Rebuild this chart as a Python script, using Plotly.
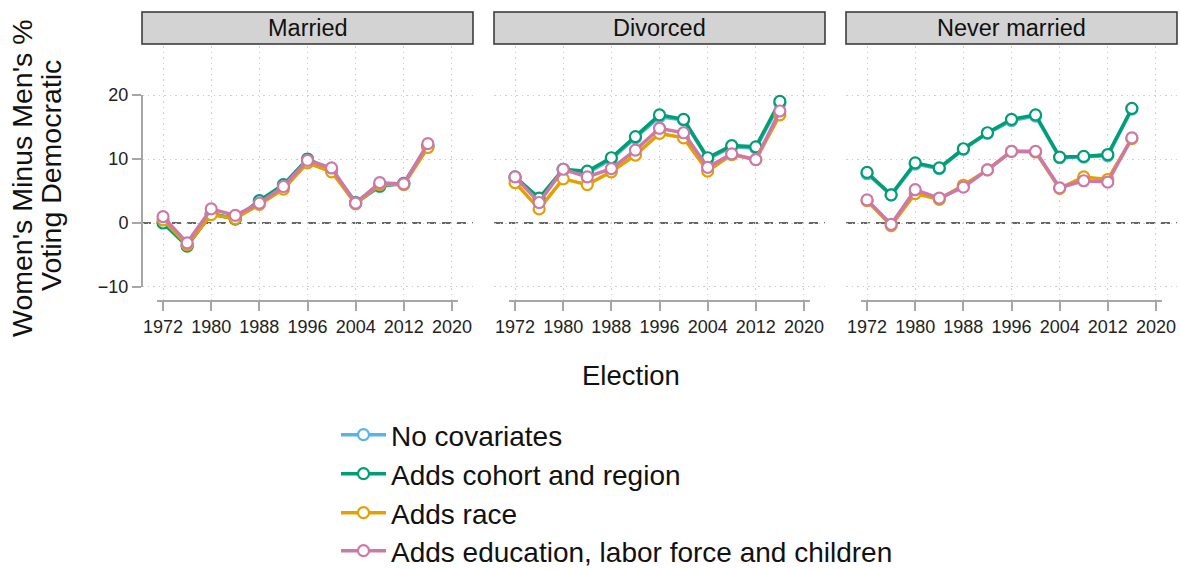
import plotly.graph_objects as go

# Election years
years = [1972, 1976, 1980, 1984, 1988, 1992, 1996, 2000, 2004, 2008, 2012, 2016]

# Gender gap (women minus men, % voting Democratic) by marital status and model
married_none = [0.2, -3.5, 1.4, 0.7, 3.4, 5.9, 9.9, 8.4, 3.1, 5.7, 6.2, 12.0]
married_cohort = [0.0, -3.6, 1.5, 0.6, 3.5, 6.0, 10.0, 8.3, 3.2, 5.8, 6.2, 12.0]
married_race = [0.5, -3.4, 1.3, 0.7, 2.9, 5.3, 9.4, 8.0, 3.0, 6.0, 6.0, 11.8]
married_educ = [1.0, -3.1, 2.2, 1.2, 3.1, 5.7, 9.8, 8.6, 3.1, 6.3, 6.1, 12.4]

divorced_none = [7.0, 3.6, 8.3, 7.8, 10.0, 13.3, 16.6, 16.1, 10.0, 11.9, 11.7, 18.7]
divorced_cohort = [7.2, 3.9, 8.4, 8.1, 10.2, 13.5, 16.9, 16.2, 10.2, 12.1, 11.9, 19.0]
divorced_race = [6.3, 2.2, 6.9, 6.0, 8.0, 10.6, 14.0, 13.3, 8.1, 10.7, 9.9, 16.9]
divorced_educ = [7.2, 3.2, 8.4, 7.2, 8.5, 11.4, 14.8, 14.1, 8.7, 10.8, 9.9, 17.5]

never_none = [7.7, 4.4, 9.2, 8.5, 11.5, 14.0, 16.0, 16.7, 10.2, 10.3, 10.5, 17.8]
never_cohort = [7.9, 4.4, 9.4, 8.6, 11.6, 14.1, 16.2, 16.9, 10.3, 10.4, 10.7, 17.9]
never_race = [3.5, -0.4, 4.6, 3.7, 5.9, 8.3, 11.2, 11.1, 5.4, 7.2, 6.8, 13.2]
never_educ = [3.6, -0.2, 5.2, 3.9, 5.6, 8.3, 11.2, 11.2, 5.5, 6.6, 6.4, 13.3]

panels = ["Married", "Divorced", "Never married"]
series_names = [
    "No covariates",
    "Adds cohort and region",
    "Adds race",
    "Adds education, labor force and children",
]
series_colors = ["#56B4E9", "#009E73", "#E69F00", "#CC79A7"]
panel_data = [
    [married_none, married_cohort, married_race, married_educ],
    [divorced_none, divorced_cohort, divorced_race, divorced_educ],
    [never_none, never_cohort, never_race, never_educ],
]

x_ticks = [1972, 1980, 1988, 1996, 2004, 2012, 2020]
y_ticks = [-10, 0, 10, 20]

FONT = "Liberation Sans, Arial, sans-serif"
W, H = 1180, 569
M_L, M_R, M_T, M_B = 142, 3, 46, 268
PW = W - M_L - M_R
PH = H - M_T - M_B

def px_x(p):
    return (p - M_L) / PW

def px_y(p):
    return (H - M_B - p) / PH

panel_px = [(142, 473), (494, 825), (846, 1177)]
legend_rows = [435, 474, 513, 551]

fig = go.Figure()

for i, (name, data) in enumerate(zip(panels, panel_data)):
    ax = "" if i == 0 else str(i + 1)
    for j, (sname, vals, col) in enumerate(zip(series_names, data, series_colors)):
        fig.add_trace(go.Scatter(
            x=years, y=vals, name=sname,
            mode="lines+markers",
            xaxis="x" + ax, yaxis="y" + ax,
            line=dict(color=col, width=3.5),
            marker=dict(size=11, color="white", line=dict(color=col, width=2.2)),
            showlegend=(i == 0),
            legend="legend" if j == 0 else "legend%d" % (j + 1),
        ))

axis_grid = dict(showgrid=True, gridcolor="#cfcfcf", griddash="1.5px,4px", gridwidth=1.2)
layout = dict(
    width=W, height=H,
    margin=dict(l=M_L, r=M_R, t=M_T, b=M_B, autoexpand=False),
    plot_bgcolor="white", paper_bgcolor="white",
    font=dict(family=FONT, color="#111"),
    shapes=[], annotations=[],
)

for i, (x0, x1) in enumerate(panel_px):
    sx = "" if i == 0 else str(i + 1)
    layout["xaxis" + sx] = dict(
        domain=[px_x(x0), px_x(x1)], range=[1968.5, 2023.5],
        tickvals=x_ticks, ticks="outside", ticklen=9, tickwidth=2,
        tickcolor="#a6a6a6", showline=False, zeroline=False,
        tickfont=dict(size=18, color="#222"), anchor="y" + sx,
        **axis_grid,
    )
    layout["yaxis" + sx] = dict(
        domain=[0, 1], range=[-12.19, 27.66], tickvals=y_ticks,
        ticks="outside" if i == 0 else "", ticklen=9, tickwidth=2,
        tickcolor="#a6a6a6", showticklabels=(i == 0), showline=False,
        zeroline=False, tickfont=dict(size=18, color="#222"),
        anchor="x" + sx, **axis_grid,
    )
    xr = "x" + sx
    yr = "y" + sx
    # dashed reference line at zero
    layout["shapes"].append(dict(
        type="line", xref=xr + " domain", yref=yr, x0=0, x1=1, y0=0, y1=0,
        line=dict(color="#666", width=1.8, dash="9px,6px"), layer="below"))
    # x axis line
    layout["shapes"].append(dict(
        type="line", xref=xr, yref=yr + " domain", x0=1971, x1=2021, y0=0, y1=0,
        line=dict(color="#a6a6a6", width=2)))
    # strip header
    layout["shapes"].append(dict(
        type="rect", xref="paper", yref="paper",
        x0=px_x(x0), x1=px_x(x1), y0=px_y(44), y1=px_y(12),
        fillcolor="#d3d3d3", line=dict(color="#333", width=1.5)))
    layout["annotations"].append(dict(
        text=panels[i], xref="paper", yref="paper",
        x=px_x((x0 + x1) / 2), y=px_y(28), showarrow=False,
        font=dict(size=23.5, color="#111"), xanchor="center", yanchor="middle"))

# y axis line on the first panel
layout["shapes"].append(dict(
    type="line", xref="x domain", yref="y", x0=0, x1=0, y0=-10, y1=20,
    line=dict(color="#a6a6a6", width=2)))

# axis titles
layout["annotations"].append(dict(
    text="Women's Minus Men's %", xref="paper", yref="paper",
    x=px_x(22), y=px_y(178), textangle=-90, showarrow=False,
    font=dict(size=28.5, color="#111"), xanchor="center", yanchor="middle"))
layout["annotations"].append(dict(
    text="Voting Democratic", xref="paper", yref="paper",
    x=px_x(51), y=px_y(176), textangle=-90, showarrow=False,
    font=dict(size=28.5, color="#111"), xanchor="center", yanchor="middle"))
layout["annotations"].append(dict(
    text="Election", xref="paper", yref="paper",
    x=px_x(631), y=px_y(375), showarrow=False,
    font=dict(size=27.5, color="#111"), xanchor="center", yanchor="middle"))

# one legend box per series so row spacing can be set exactly
for j, row in enumerate(legend_rows):
    key = "legend" if j == 0 else "legend%d" % (j + 1)
    layout[key] = dict(
        x=px_x(336), y=px_y(row), xanchor="left", yanchor="middle",
        font=dict(size=28, color="#111"), bgcolor="rgba(0,0,0,0)",
        borderwidth=0, itemwidth=45,
    )

fig.update_layout(**layout)
fig.write_html("out.html")
